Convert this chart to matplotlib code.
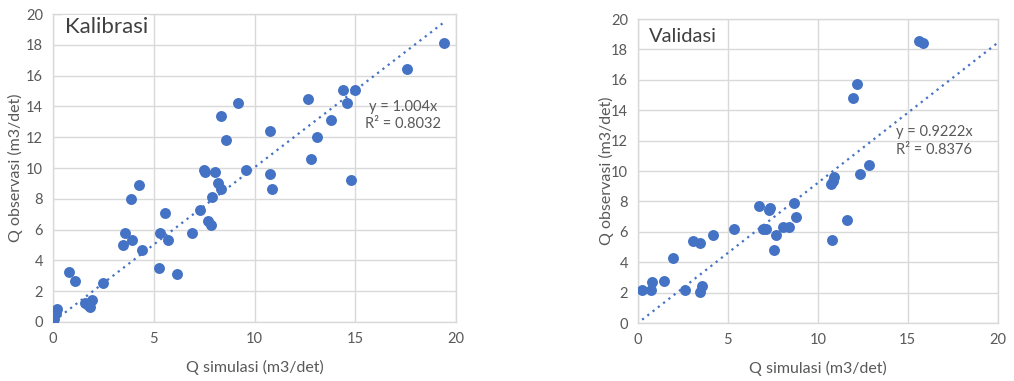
import numpy as np
import matplotlib
matplotlib.use("Agg")
import matplotlib.pyplot as plt

plt.rcParams["font.family"] = ["Lato", "DejaVu Sans"]

# --- Kalibrasi data (Q simulasi, Q observasi) ---
kal_sim = [0.08, 0.16, 0.23, 0.82, 1.09, 1.6, 1.75, 1.85, 1.93, 2.5, 3.49, 3.59,
           3.94, 3.89, 4.27, 4.4, 5.27, 5.3, 5.58, 5.72, 6.14, 6.89, 7.31, 7.48,
           7.56, 7.68, 7.84, 7.89, 8.04, 8.19, 8.34, 8.35, 8.57, 9.19, 9.59,
           10.77, 10.77, 10.86, 12.65, 12.82, 13.11, 13.79, 14.37, 14.58, 14.96,
           14.79, 17.58, 19.39]
kal_obs = [0.19, 0.58, 0.84, 3.26, 2.64, 1.2, 1.1, 0.95, 1.4, 2.51, 4.97, 5.79,
           5.34, 8.0, 8.89, 4.69, 3.48, 5.79, 7.07, 5.34, 3.11, 5.79, 7.29, 9.84,
           9.71, 6.57, 6.27, 8.11, 9.71, 9.02, 8.63, 13.41, 11.81, 14.23, 9.86,
           12.41, 9.6, 8.61, 14.49, 10.59, 12.02, 13.12, 15.09, 14.23, 15.09,
           9.21, 16.43, 18.14]
kal_slope = 1.004
kal_r2 = 0.8032

# --- Validasi data ---
val_sim = [0.24, 0.74, 0.81, 1.43, 1.98, 2.63, 3.07, 3.48, 3.46, 3.56, 4.17,
           5.33, 6.76, 7.3, 7.35, 6.96, 7.11, 7.56, 7.69, 8.07, 8.39, 8.69,
           8.81, 10.76, 10.82, 10.9, 10.8, 11.61, 11.93, 12.2, 12.33, 12.85,
           15.61, 15.83]
val_obs = [2.19, 2.19, 2.69, 2.78, 4.27, 2.19, 5.37, 5.26, 2.04, 2.45, 5.81,
           6.2, 7.69, 7.47, 7.6, 6.2, 6.2, 4.78, 5.81, 6.31, 6.31, 7.91,
           6.97, 9.18, 9.35, 9.64, 5.48, 6.81, 14.79, 15.73, 9.79, 10.38,
           18.53, 18.44]
val_slope = 0.9222
val_r2 = 0.8376

BLUE = "#4472C4"
GRID = "#D9D9D9"
TXT = "#595959"

fig = plt.figure(figsize=(10.14, 3.81), dpi=100)


def draw_panel(rect, xs, ys, slope, r2, title, title_xy, title_size,
               trend_end, eq_xy, ylab_x):
    ax = fig.add_axes(rect)
    ax.set_xlim(0, 20)
    ax.set_ylim(0, 20)
    ax.set_xticks(np.arange(0, 21, 5))
    ax.set_yticks(np.arange(0, 21, 2))
    ax.grid(True, color=GRID, linewidth=1.0)
    ax.set_axisbelow(True)
    for sp in ax.spines.values():
        sp.set_color(GRID)
        sp.set_linewidth(1.0)
    ax.tick_params(length=0, colors=TXT, labelsize=10.5, pad=7)

    # garis tren (y = a x) dari x terkecil
    xt = np.array([min(xs), trend_end])
    ax.plot(xt, slope * xt, linestyle=(0, (1, 2)), color=BLUE, linewidth=1.6,
            zorder=2)
    ax.scatter(xs, ys, s=62, color=BLUE, zorder=3, linewidths=0)

    ax.text(eq_xy[0], eq_xy[1], f"y = {slope}x\nR² = {r2}", ha="center",
            va="center", color=TXT, fontsize=10.5, linespacing=1.3)
    ax.text(title_xy[0], title_xy[1], title, ha="left", va="center",
            fontsize=title_size, color="#404040",
            bbox=dict(facecolor="white", edgecolor="none", pad=1.5))

    ax.set_xlabel("Q simulasi (m3/det)", color=TXT, fontsize=11.5)
    ax.set_ylabel("Q observasi (m3/det)", color=TXT, fontsize=11.5)
    ax.xaxis.set_label_coords(0.5, -0.125)
    ax.yaxis.set_label_coords(ylab_x, 0.5)
    return ax


draw_panel([0.052, 0.155, 0.398, 0.808], kal_sim, kal_obs, kal_slope,
           kal_r2, "Kalibrasi", (0.6, 19.15), 16, max(kal_sim),
           (17.35, 13.4), -0.073)
draw_panel([0.629, 0.152, 0.355, 0.798], val_sim, val_obs, val_slope,
           val_r2, "Validasi", (0.6, 18.85), 14.5, 20,
           (16.48, 11.97), -0.067)

fig.savefig("out.png", dpi=100)
